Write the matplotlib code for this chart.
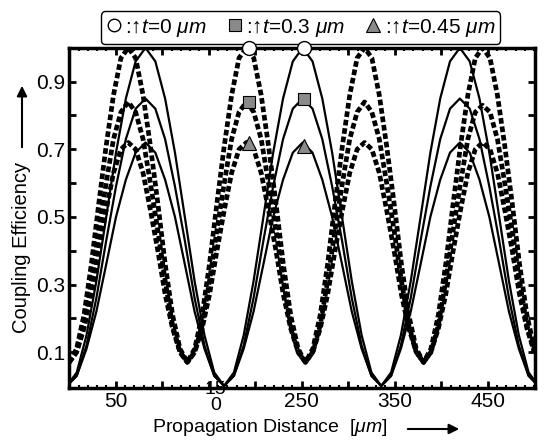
import matplotlib
matplotlib.use("Agg")
import matplotlib.pyplot as plt
from matplotlib.lines import Line2D
from matplotlib.ticker import FixedLocator, MultipleLocator

plt.rcParams['font.family'] = ['Liberation Sans', 'DejaVu Sans']
plt.rcParams['mathtext.fontset'] = 'custom'
plt.rcParams['mathtext.rm'] = 'Liberation Sans'
plt.rcParams['mathtext.it'] = 'Liberation Sans:italic'

# propagation distance [um], samples of the dashed (short beat) curves
x_dash = [0.0, 7.9, 15.9, 23.8, 31.8, 39.7, 47.6, 55.6, 63.5, 71.4, 79.4, 87.3, 95.3, 103.2, 111.1, 119.1,
          127.0, 134.9, 142.9, 150.8, 158.8, 166.7, 174.6, 182.6, 190.5, 198.4, 206.4, 214.3, 222.3, 230.2, 238.1, 246.1,
          254.0, 261.9, 269.9, 277.8, 285.8, 293.7, 301.6, 309.6, 317.5, 325.4, 333.4, 341.3, 349.3, 357.2, 365.1, 373.1,
          381.0, 388.9, 396.9, 404.8, 412.8, 420.7, 428.6, 436.6, 444.5, 452.4, 460.4, 468.3, 476.3, 484.2, 492.1, 500.1]

dash_t0 = [0.07, 0.11, 0.21, 0.36, 0.54, 0.71, 0.86, 0.97, 1.00, 0.97, 0.86, 0.71, 0.54, 0.36, 0.21, 0.11,
           0.07, 0.11, 0.21, 0.36, 0.54, 0.71, 0.86, 0.97, 1.00, 0.97, 0.86, 0.71, 0.54, 0.36, 0.21, 0.11,
           0.07, 0.11, 0.21, 0.36, 0.54, 0.71, 0.86, 0.97, 1.00, 0.97, 0.86, 0.71, 0.54, 0.36, 0.21, 0.11,
           0.07, 0.11, 0.21, 0.36, 0.54, 0.71, 0.86, 0.97, 1.00, 0.97, 0.86, 0.71, 0.54, 0.36, 0.21, 0.11]
dash_t03 = [0.07, 0.10, 0.18, 0.31, 0.46, 0.60, 0.73, 0.81, 0.84, 0.81, 0.73, 0.60, 0.46, 0.31, 0.18, 0.10,
            0.07, 0.10, 0.18, 0.31, 0.46, 0.60, 0.73, 0.81, 0.84, 0.81, 0.73, 0.60, 0.46, 0.31, 0.18, 0.10,
            0.07, 0.10, 0.18, 0.31, 0.46, 0.60, 0.73, 0.81, 0.84, 0.81, 0.73, 0.60, 0.46, 0.31, 0.18, 0.10,
            0.07, 0.10, 0.18, 0.31, 0.46, 0.60, 0.73, 0.81, 0.83, 0.81, 0.73, 0.60, 0.46, 0.31, 0.18, 0.10]
dash_t045 = [0.07, 0.10, 0.17, 0.27, 0.40, 0.52, 0.63, 0.70, 0.72, 0.70, 0.63, 0.52, 0.40, 0.27, 0.17, 0.10,
             0.07, 0.10, 0.17, 0.27, 0.40, 0.52, 0.63, 0.70, 0.72, 0.70, 0.63, 0.52, 0.40, 0.27, 0.17, 0.10,
             0.07, 0.10, 0.17, 0.27, 0.40, 0.52, 0.63, 0.70, 0.72, 0.70, 0.63, 0.52, 0.40, 0.27, 0.17, 0.10,
             0.07, 0.10, 0.17, 0.27, 0.40, 0.52, 0.63, 0.70, 0.72, 0.70, 0.63, 0.52, 0.40, 0.27, 0.17, 0.10]

# propagation distance [um], samples of the solid (long beat) curves
x_solid = [-2.5, 8.1, 18.6, 29.2, 39.8, 50.3, 60.9, 71.4, 82.0, 92.6, 103.1, 113.7, 124.3, 134.8, 145.4, 155.9,
           166.5, 177.1, 187.6, 198.2, 208.8, 219.3, 229.9, 240.4, 251.0, 261.6, 272.1, 282.7, 293.3, 303.8, 314.4, 324.9,
           335.5, 346.1, 356.6, 367.2, 377.8, 388.3, 398.9, 409.4, 420.0, 430.6, 441.1, 451.7, 462.3, 472.8, 483.4, 493.9,
           504.5]

solid_t0 = [0.00, 0.04, 0.15, 0.31, 0.50, 0.69, 0.85, 0.96, 1.00, 0.96, 0.85, 0.69, 0.50, 0.31, 0.15, 0.04,
            0.00, 0.04, 0.15, 0.31, 0.50, 0.69, 0.85, 0.96, 1.00, 0.96, 0.85, 0.69, 0.50, 0.31, 0.15, 0.04,
            0.00, 0.04, 0.15, 0.31, 0.50, 0.69, 0.85, 0.96, 1.00, 0.96, 0.85, 0.69, 0.50, 0.31, 0.15, 0.04,
            0.00]
solid_t03 = [0.00, 0.03, 0.12, 0.26, 0.43, 0.59, 0.73, 0.82, 0.85, 0.82, 0.73, 0.59, 0.43, 0.26, 0.12, 0.03,
             0.00, 0.03, 0.12, 0.26, 0.43, 0.59, 0.73, 0.82, 0.85, 0.82, 0.73, 0.59, 0.43, 0.26, 0.12, 0.03,
             0.00, 0.03, 0.12, 0.26, 0.43, 0.59, 0.73, 0.82, 0.85, 0.82, 0.73, 0.59, 0.43, 0.26, 0.12, 0.03,
             0.00]
solid_t045 = [0.00, 0.03, 0.11, 0.22, 0.36, 0.50, 0.61, 0.69, 0.72, 0.69, 0.61, 0.50, 0.36, 0.22, 0.11, 0.03,
              0.00, 0.03, 0.11, 0.22, 0.36, 0.50, 0.61, 0.69, 0.72, 0.69, 0.61, 0.50, 0.36, 0.22, 0.11, 0.03,
              0.00, 0.03, 0.11, 0.22, 0.36, 0.50, 0.61, 0.69, 0.72, 0.69, 0.61, 0.50, 0.36, 0.22, 0.11, 0.03,
              0.00]

# marked peaks
peak_x = [193, 252]
circ_y = [1.0, 1.0]
sq_y = [0.84, 0.85]
tri_y = [0.72, 0.71]

labels = [':\u2191$t$=0 $\\mu m$', ':\u2191$t$=0.3 $\\mu m$', ':\u2191$t$=0.45 $\\mu m$']
xlabels = ['50', '', '', '', '250', '', '350', '', '450']
xticks = [50, 100, 150, 200, 250, 300, 350, 400, 450]
yticks = [0.1, 0.3, 0.5, 0.7, 0.9]

fig = plt.figure(figsize=(5.45, 4.43), dpi=100)
ax = fig.add_axes([0.127, 0.125, 0.855, 0.767])

for y in (dash_t0, dash_t03, dash_t045):
    ax.plot(x_dash, y, color='black', lw=3.4, ls=(0, (1.2, 0.6)))
for y in (solid_t0, solid_t03, solid_t045):
    ax.plot(x_solid, y, color='black', lw=1.6)

ax.plot(peak_x, circ_y, 'o', ms=10, mfc='white', mec='black', mew=1.0, clip_on=False, zorder=6)
ax.plot(peak_x, sq_y, 's', ms=9, mfc='#8a8a8a', mec='black', mew=0.8, zorder=6)
ax.plot(peak_x, tri_y, '^', ms=10, mfc='#8a8a8a', mec='black', mew=0.8, zorder=6)

ax.set_xlim(0, 501)
ax.set_ylim(-0.005, 1.0)

ax.xaxis.set_major_locator(FixedLocator(xticks))
ax.set_xticklabels(xlabels)
ax.xaxis.set_minor_locator(MultipleLocator(10))
ax.yaxis.set_major_locator(FixedLocator(yticks))
ax.set_yticklabels(['0.1', '0.3', '0.5', '0.7', '0.9'])
ax.yaxis.set_minor_locator(FixedLocator([0.2, 0.4, 0.6, 0.8]))

ax.tick_params(which='major', direction='in', top=True, right=True, length=5, width=2, labelsize=15, pad=3)
ax.tick_params(axis='y', which='minor', direction='in', left=True, right=True, length=5, width=2)
ax.tick_params(axis='x', which='minor', direction='in', top=True, bottom=True, length=2.5, width=1.5)
for s in ax.spines.values():
    s.set_linewidth(2.5)

# the 150 label is broken in two in the original
ax.text(157, -0.012, '15', ha='center', va='center', fontsize=14)
ax.text(157, -0.058, '0', ha='center', va='center', fontsize=14)

handles = [Line2D([], [], marker='o', ls='none', ms=9, mfc='white', mec='black', mew=1.0),
           Line2D([], [], marker='s', ls='none', ms=8, mfc='#8a8a8a', mec='black', mew=0.8),
           Line2D([], [], marker='^', ls='none', ms=10, mfc='#8a8a8a', mec='black', mew=0.8)]
leg = ax.legend(handles, labels, ncol=3, loc='lower center', bbox_to_anchor=(0.497, 1.012),
                fontsize=15, frameon=True, fancybox=True, handlelength=0.7, handletextpad=0.2,
                columnspacing=1.0, borderpad=0.25, borderaxespad=0.0, edgecolor='black', framealpha=1)
leg.get_frame().set_linewidth(1.0)

fig.text(270 / 545, 1 - 428 / 443, 'Propagation Distance  [$\\mu m$]', ha='center', va='center', fontsize=14)
ax.annotate('', xy=(462 / 545, 1 - 429 / 443), xytext=(405 / 545, 1 - 429 / 443),
            xycoords='figure fraction', textcoords='figure fraction',
            arrowprops=dict(arrowstyle='-|>', color='black', lw=1.5, mutation_scale=15))
fig.text(22 / 545, 1 - 247 / 443, 'Coupling Efficiency', rotation=90, ha='center', va='center', fontsize=14.5)
ax.annotate('', xy=(22 / 545, 1 - 83 / 443), xytext=(22 / 545, 1 - 150 / 443),
            xycoords='figure fraction', textcoords='figure fraction',
            arrowprops=dict(arrowstyle='-|>', color='black', lw=1.5, mutation_scale=15))

fig.savefig('out.png', dpi=100)
